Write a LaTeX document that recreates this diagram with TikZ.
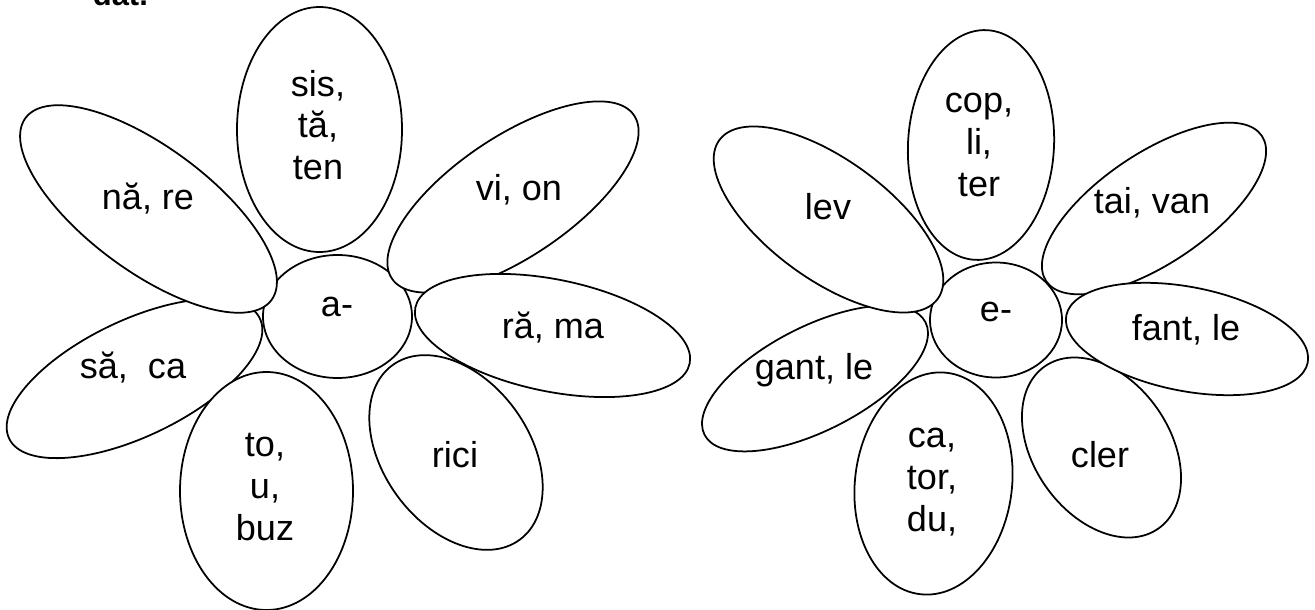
\documentclass[tikz,border=0pt]{standalone}
\usepackage{fontspec}
\setmainfont{Liberation Sans}

\begin{document}
\begin{tikzpicture}[x=0.2mm, y=-0.2mm, line width=1pt,
  petal/.style={draw=black, fill=white},
  heart/.style={draw=black, fill=white},
  syl/.style={font=\fontsize{20.5}{23.8}\selectfont, align=center, inner sep=0pt},
  headline/.style={font=\fontsize{17.6}{20}\selectfont\bfseries, anchor=base west, inner sep=0pt},
]
\useasboundingbox (0,0) rectangle (1315,610);
\node[headline] (title) at (92,6) {dat.};
% first flower
\draw[heart] (337.5,316.5) ellipse [x radius=74.5, y radius=61.5];
\draw[petal, rotate around={25.6:(134.5,378.5)}] (134.5,378.5) ellipse [x radius=139, y radius=58];
\draw[petal, rotate around={-36.5:(148.5,209)}] (148.5,209) ellipse [x radius=153, y radius=62];
\draw[petal] (319.5,129.5) ellipse [x radius=82.5, y radius=122.5];
\draw[petal, rotate around={34:(513,197)}] (513,197) ellipse [x radius=146, y radius=60];
\draw[petal, rotate around={-54:(456,452.5)}] (456,452.5) ellipse [x radius=108, y radius=73];
\draw[petal, rotate around={-11.5:(552.5,335.5)}] (552.5,335.5) ellipse [x radius=140, y radius=56];
\draw[petal] (266.5,491) ellipse [x radius=86.5, y radius=119];
\node[syl] (a0) at (337,307) {a-};
\node[syl] (a1) at (133,368) {să,\ \ ca};
\node[syl] (a2) at (148,199) {nă, re};
\node[syl] (a3) at (318,125) {sis,\\tă,\\ten};
\node[syl] (a4) at (519,190) {vi, on};
\node[syl] (a5) at (553,328) {ră, ma};
\node[syl] (a6) at (455,455) {rici};
\node[syl] (a7) at (265,487) {to,\\u,\\buz};
% second flower
\draw[heart] (996,320) ellipse [x radius=66, y radius=57.5];
\draw[petal, rotate around={27:(815,378.5)}] (815,378.5) ellipse [x radius=124, y radius=52];
\draw[petal, rotate around={-36:(828.5,219.5)}] (828.5,219.5) ellipse [x radius=135, y radius=60];
\draw[petal, rotate around={-3:(981,145)}] (981,145) ellipse [x radius=73, y radius=115];
\draw[petal, rotate around={34:(1154,208.5)}] (1154,208.5) ellipse [x radius=130, y radius=55];
\draw[petal, rotate around={-55:(1101.5,447.5)}] (1101.5,447.5) ellipse [x radius=99, y radius=68];
\draw[petal, rotate around={-11:(1187,339)}] (1187,339) ellipse [x radius=123, y radius=52];
\draw[petal, rotate around={-7:(933.5,483.5)}] (933.5,483.5) ellipse [x radius=78.5, y radius=111.5];
\node[syl] (e0) at (996,312) {e-};
\node[syl] (e1) at (814,370) {gant, le};
\node[syl] (e2) at (828,207) {lev};
\node[syl] (e3) at (979,145) {cop,\\li,\\ter};
\node[syl] (e4) at (1152,203) {tai, van};
\node[syl] (e5) at (1186,330) {fant, le};
\node[syl] (e6) at (1100,455) {cler};
\node[syl] (e7) at (932,482) {ca,\\tor,\\du,};
\end{tikzpicture}
\end{document}
